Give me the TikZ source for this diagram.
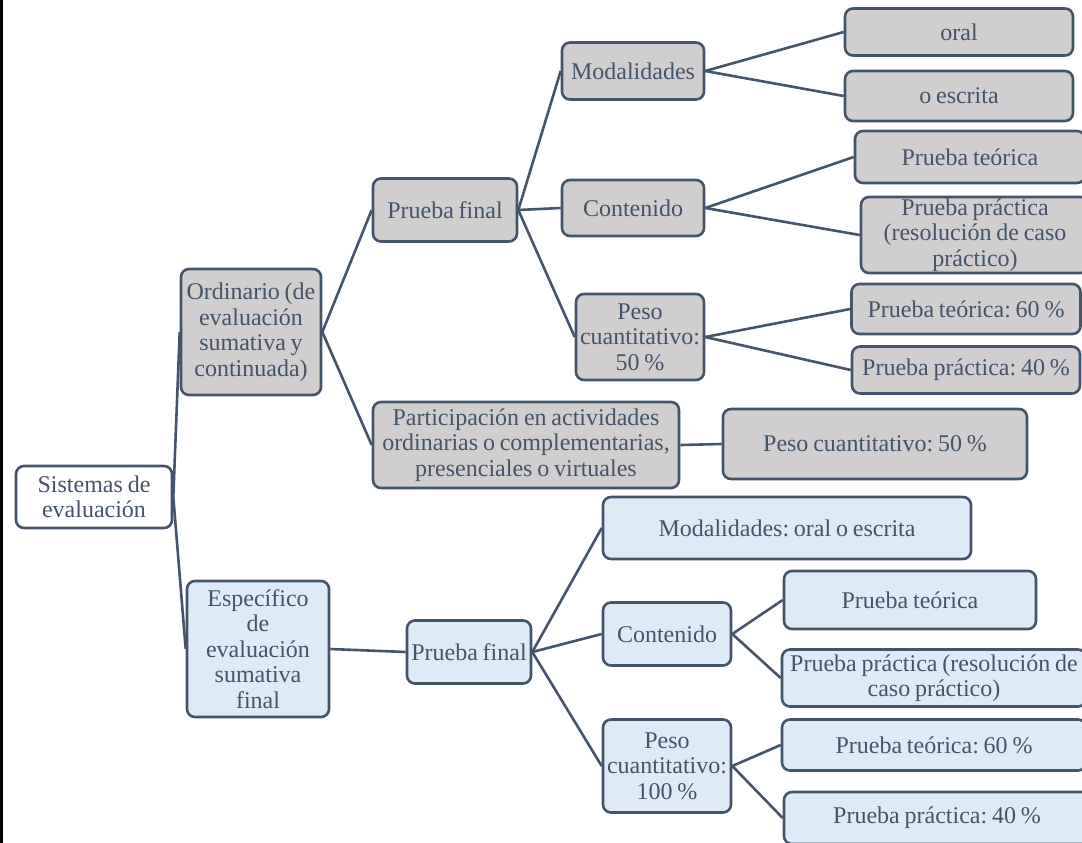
\documentclass[tikz,border=0pt]{standalone}
\usepackage{fontspec}
\setmainfont[WordSpace=0.8]{Liberation Serif}
\usetikzlibrary{shapes, arrows.meta, positioning}
\frenchspacing

\definecolor{bordeazul}{HTML}{44546A}
\definecolor{grisclaro}{HTML}{D0CECE}
\definecolor{azulclaro}{HTML}{DEEBF7}

\begin{document}
\begin{tikzpicture}[x=1pt, y=-1pt]
        % estilos de las cajas
        \tikzstyle{caja} = [rectangle, rounded corners=8pt, draw=bordeazul, line width=2.6pt, fill=white, text=bordeazul, align=center, inner sep=1pt, font=\fontsize{24}{25.5}\selectfont]
        \tikzstyle{gris} = [caja, fill=grisclaro]
        \tikzstyle{azul} = [caja, fill=azulclaro]
        \tikzstyle{linea} = [draw=bordeazul, line width=2.6pt]

        \useasboundingbox (0,0) rectangle (1082,843);
        \clip (0,0) rectangle (1082,843);
        \fill[black] (0,0) rectangle (2.5,843);

        % raiz
        \node (sistemas) [caja, minimum width=156, minimum height=62] at (94,497) {Sistemas de\\evaluación};

        % rama ordinaria
        \node (ordinario) [gris, minimum width=140, minimum height=126] at (251,332) {Ordinario (de\\evaluación\\sumativa y\\continuada)};
        \node (final_o) [gris, minimum width=144, minimum height=63] at (445,210) {Prueba final};
        \node (participacion) [gris, minimum width=306, minimum height=86] at (526,445) {Participación en actividades\\ordinarias o complementarias,\\presenciales o virtuales};
        \node (peso_part) [gris, minimum width=304, minimum height=70] at (875,444) {Peso cuantitativo: 50 \%};
        \node (modal_o) [gris, minimum width=142, minimum height=57] at (633,71) {Modalidades};
        \node (cont_o) [gris, minimum width=142, minimum height=56] at (633,208) {Contenido};
        \node (peso_o) [gris, minimum width=128, minimum height=86] at (640,337) {Peso\\cuantitativo:\\50 \%};
        \node (oral) [gris, minimum width=228, minimum height=47] at (959,32) {oral};
        \node (escrita) [gris, minimum width=228, minimum height=50] at (959,96) {o escrita};
        \node (teor_o) [gris, minimum width=230, minimum height=52] at (970,157) {Prueba teórica};
        \node (prac_o) [gris, minimum width=228, minimum height=76] at (975,235) {Prueba práctica\\(resolución de caso\\práctico)};
        \node (teor60_o) [gris, minimum width=229, minimum height=50] at (966,309) {Prueba teórica: 60 \%};
        \node (prac40_o) [gris, minimum width=228, minimum height=47] at (966,370) {Prueba práctica: 40 \%};

        % rama especifica
        \node (especifico) [azul, minimum width=142, minimum height=136] at (258,649) {Específico\\de\\evaluación\\sumativa\\final};
        \node (final_e) [azul, minimum width=124, minimum height=63] at (469,652) {Prueba final};
        \node (modal_e) [azul, minimum width=368, minimum height=62] at (787,528) {Modalidades: oral o escrita};
        \node (cont_e) [azul, minimum width=128, minimum height=63] at (667,634) {Contenido};
        \node (peso_e) [azul, minimum width=128, minimum height=93] at (667,766) {Peso\\cuantitativo:\\100 \%};
        \node (teor_e) [azul, minimum width=252, minimum height=58] at (910,600) {Prueba teórica};
        \node (prac_e) [azul, minimum width=304, minimum height=57] at (934,678) {Prueba práctica (resolución de\\caso práctico)};
        \node (teor60_e) [azul, minimum width=304, minimum height=51] at (934,745) {Prueba teórica: 60 \%};
        \node (prac40_e) [azul, minimum width=306, minimum height=52] at (937,818) {Prueba práctica: 40 \%};

        % conectores
        \draw [linea] (sistemas.east) -- (ordinario.west);
        \draw [linea] (sistemas.east) -- (especifico.west);
        \draw [linea] (ordinario.east) -- (final_o.west);
        \draw [linea] (ordinario.east) -- (participacion.west);
        \draw [linea] (participacion.east) -- (peso_part.west);
        \draw [linea] (final_o.east) -- (modal_o.west);
        \draw [linea] (final_o.east) -- (cont_o.west);
        \draw [linea] (final_o.east) -- (peso_o.west);
        \draw [linea] (modal_o.east) -- (oral.west);
        \draw [linea] (modal_o.east) -- (escrita.west);
        \draw [linea] (cont_o.east) -- (teor_o.west);
        \draw [linea] (cont_o.east) -- (prac_o.west);
        \draw [linea] (peso_o.east) -- (teor60_o.west);
        \draw [linea] (peso_o.east) -- (prac40_o.west);
        \draw [linea] (especifico.east) -- (final_e.west);
        \draw [linea] (final_e.east) -- (modal_e.west);
        \draw [linea] (final_e.east) -- (cont_e.west);
        \draw [linea] (final_e.east) -- (peso_e.west);
        \draw [linea] (cont_e.east) -- (teor_e.west);
        \draw [linea] (cont_e.east) -- (prac_e.west);
        \draw [linea] (peso_e.east) -- (teor60_e.west);
        \draw [linea] (peso_e.east) -- (prac40_e.west);

    \end{tikzpicture}
\end{document}
